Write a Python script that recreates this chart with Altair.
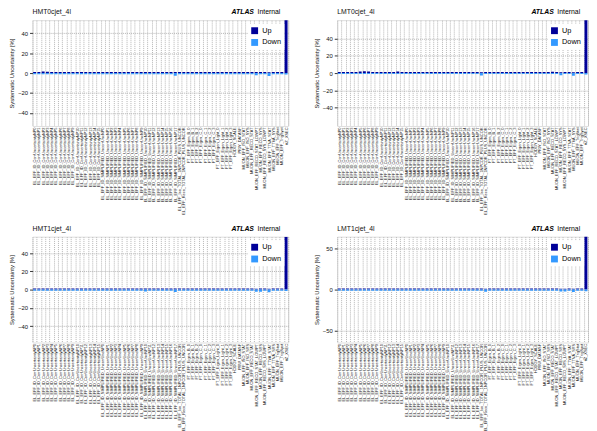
import altair as alt
import pandas as pd

F = "Liberation Sans"

categories = (
    [f"EL_EFF_ID_CorrUncertaintyNP{i}" for i in range(16)]
    + [f"EL_EFF_ID_SIMPLIFIED_UncorrUncNP{i}" for i in range(18)]
    + ["EL_EFF_Iso_TOTAL_1NPCOR_PLUS_UNCOR", "EL_EFF_Reco_TOTAL_1NPCOR_PLUS_UNCOR"]
    + ["FT_EFF_Eigen_B_0", "FT_EFF_Eigen_B_1", "FT_EFF_Eigen_B_2",
       "FT_EFF_Eigen_C_0", "FT_EFF_Eigen_C_1", "FT_EFF_Eigen_C_2", "FT_EFF_Eigen_C_3",
       "FT_EFF_Eigen_Light_0", "FT_EFF_Eigen_Light_1", "FT_EFF_Eigen_Light_2", "FT_EFF_Eigen_Light_3"]
    + ["HODGY_SCALE", "PRW_DATASF"]
    + ["MUON_EFF_ISO_STAT", "MUON_EFF_ISO_SYS", "MUON_EFF_RECO_STAT", "MUON_EFF_RECO_STAT_LOWPT",
       "MUON_EFF_RECO_SYS", "MUON_EFF_RECO_SYS_LOWPT", "MUON_EFF_TTVA_STAT", "MUON_EFF_TTVA_SYS",
       "MUON_EFF_TrigStat", "MUON_EFF_TrigSyst", "ttZ_XSEC"]
)

up_hmt0 = [1.2, 1.2, 1.7, 1.3, 1.2, 1.2, 1.2, 1.2, 1.2, 1.2,
           1.2, 1.2, 1.2, 1.2, 1.2, 1.2, 1.2, 1.2, 1.2, 1.2,
           1.2, 1.2, 1.2, 1.2, 1.2, 1.2, 1.2, 1.2, 1.2, 1.2,
           1.2, 1.2, 1.2, 1.0, 1.2, 1.2, 1.2, 1.2, 1.2, 1.2,
           1.2, 1.2, 1.2, 1.2, 1.2, 1.2, 1.2, 1.2, 1.2, 1.2,
           1.2, 1.2, 1.0, 1.2, 1.2, 0.9, 1.2, 1.2, 1.2, 60.0]
down_hmt0 = [-1.2, -1.2, -1.2, -1.2, -1.2, -1.2, -1.2, -1.2, -1.2, -1.2,
             -1.2, -1.2, -1.2, -1.2, -1.2, -1.2, -1.2, -1.2, -1.2, -1.2,
             -1.2, -1.2, -1.2, -1.2, -1.2, -1.2, -1.2, -1.2, -1.2, -1.2,
             -1.2, -1.2, -1.2, -2.6, -1.2, -1.2, -1.2, -1.2, -1.2, -1.2,
             -1.2, -1.2, -1.2, -1.2, -1.2, -1.2, -1.2, -1.2, -1.2, -1.2,
             -1.2, -1.2, -2.2, -1.2, -1.2, -3.0, -1.2, -1.2, -1.2, -1.4]

up_lmt0 = [1.2, 1.2, 1.2, 1.2, 1.2, 1.9, 2.0, 1.8, 1.2, 1.2,
           1.2, 1.2, 1.2, 1.2, 1.8, 1.2, 1.2, 1.2, 1.2, 1.2,
           1.2, 1.2, 1.2, 1.2, 1.2, 1.2, 1.2, 1.2, 1.2, 1.2,
           1.2, 1.2, 1.2, 1.2, 1.0, 1.2, 1.2, 1.2, 1.2, 1.2,
           1.2, 1.2, 1.2, 1.2, 1.2, 1.2, 1.2, 1.2, 1.2, 1.2,
           1.2, 1.6, 1.2, 1.0, 1.2, 1.2, 0.9, 1.2, 1.2, 68.0]
down_lmt0 = [-1.2, -1.2, -1.2, -1.2, -1.2, -1.2, -1.2, -1.2, -1.2, -1.2,
             -1.2, -1.2, -1.2, -1.2, -1.2, -1.2, -1.2, -1.2, -1.2, -1.2,
             -1.2, -1.2, -1.2, -1.2, -1.2, -1.2, -1.2, -1.2, -1.2, -1.2,
             -1.2, -1.2, -1.2, -1.2, -2.8, -1.2, -1.2, -1.2, -1.2, -1.2,
             -1.2, -1.2, -1.2, -1.2, -1.2, -1.2, -1.2, -1.2, -1.2, -1.2,
             -1.2, -1.2, -1.2, -2.4, -1.2, -1.2, -3.0, -1.2, -1.2, -1.6]

up_hmt1 = [1.3, 1.3, 1.3, 1.3, 1.3, 1.3, 1.3, 1.3, 1.3, 1.3,
           1.3, 1.3, 1.3, 1.3, 1.3, 1.3, 1.3, 1.3, 1.3, 1.3,
           1.3, 1.3, 1.3, 1.3, 1.3, 1.3, 1.1, 1.3, 1.3, 1.3,
           1.3, 1.3, 1.3, 1.1, 1.3, 1.3, 1.3, 1.3, 1.3, 1.3,
           1.3, 1.3, 1.3, 1.3, 1.3, 1.3, 1.3, 1.3, 1.3, 1.3,
           1.3, 1.3, 1.0, 1.1, 1.3, 1.0, 1.3, 1.3, 1.3, 58.0]
down_hmt1 = [-1.3, -1.3, -1.3, -1.3, -1.3, -1.3, -1.3, -1.3, -1.3, -1.3,
             -1.3, -1.3, -1.3, -1.3, -1.3, -1.3, -1.3, -1.3, -1.3, -1.3,
             -1.3, -1.3, -1.3, -1.3, -1.3, -1.3, -2.2, -1.3, -1.3, -1.3,
             -1.3, -1.3, -1.3, -2.6, -1.3, -1.3, -1.3, -1.3, -1.3, -1.3,
             -1.3, -1.3, -1.3, -1.3, -1.3, -1.3, -1.3, -1.3, -1.3, -1.3,
             -1.3, -1.3, -2.4, -2.4, -1.3, -2.8, -1.3, -1.3, -1.3, -1.6]

up_lmt1 = [1.3, 1.3, 1.3, 1.3, 1.3, 1.3, 1.3, 1.3, 1.3, 1.3,
           1.3, 1.3, 1.3, 1.3, 1.3, 1.3, 1.3, 1.3, 1.3, 1.3,
           1.3, 1.3, 1.3, 1.3, 1.3, 1.3, 1.3, 1.3, 1.3, 1.3,
           1.3, 1.3, 1.3, 1.3, 1.3, 1.1, 1.3, 1.3, 1.3, 1.3,
           1.3, 1.3, 1.3, 1.3, 1.3, 1.3, 1.3, 1.3, 1.3, 1.3,
           1.3, 1.3, 1.3, 1.0, 1.1, 1.3, 1.0, 1.3, 1.3, 70.0]
down_lmt1 = [-1.3, -1.3, -1.3, -1.3, -1.3, -1.3, -1.3, -1.3, -1.3, -1.3,
             -1.3, -1.3, -1.3, -1.3, -1.3, -1.3, -1.3, -1.3, -1.3, -1.3,
             -1.3, -1.3, -1.3, -1.3, -1.3, -1.3, -1.3, -1.3, -1.3, -1.3,
             -1.3, -1.3, -1.3, -1.3, -1.3, -2.6, -1.3, -1.3, -1.3, -1.3,
             -1.3, -1.3, -1.3, -1.3, -1.3, -1.3, -1.3, -1.3, -1.3, -1.3,
             -1.3, -1.3, -1.3, -2.4, -2.2, -1.3, -2.8, -1.3, -1.3, -2.0]

series = ["Up", "Down"]
colors = ["#000099", "#3399ff"]


def panel(title, up, down, dom, ticks, width, height):
    df = pd.DataFrame({
        "cat": categories * 2,
        "series": ["Up"] * len(categories) + ["Down"] * len(categories),
        "value": up + down,
    })
    bars = alt.Chart(df).mark_bar(width=alt.RelativeBandSize(0.7), clip=True).encode(
        x=alt.X("cat:N", sort=categories, title=None,
                scale=alt.Scale(paddingInner=0, paddingOuter=0),
                axis=alt.Axis(labelAngle=270, labelFontSize=4, labelOverlap=False,
                              labelPadding=1, labelFont=F, labelColor="#222",
                              ticks=False, tickBand="extent",
                              grid=True, gridDash=[1, 1], gridColor="#b4b4b4",
                              domain=False, labelBound=False)),
        y=alt.Y("value:Q", stack=None,
                scale=alt.Scale(domain=dom, nice=False, zero=False),
                axis=alt.Axis(values=ticks, title="Systematic Uncertainty [%]",
                              titleFontSize=6, titleFont=F, titleFontWeight="normal",
                              titleColor="#111", titlePadding=3,
                              labelFontSize=6, labelFont=F, labelColor="#111",
                              tickSize=3, tickColor="#333", domain=False,
                              grid=True, gridDash=[1, 1], gridColor="#b4b4b4")),
        color=alt.Color("series:N", sort=series,
                        scale=alt.Scale(domain=series, range=colors),
                        legend=alt.Legend(title=None, orient="top-right", offset=4,
                                          padding=3, fillColor="white",
                                          symbolType="square", symbolSize=49,
                                          symbolStrokeWidth=0, labelOffset=4,
                                          labelFontSize=7.5, labelFont=F,
                                          labelColor="#000", rowPadding=3)),
    )
    t = pd.DataFrame({"k": [0]})
    ttl = alt.Chart(t).mark_text(align="left", baseline="middle", fontSize=7,
                                 font=F, color="#111").encode(
        x=alt.value(0), y=alt.value(-8), text=alt.value(title))
    atlas = alt.Chart(t).mark_text(align="right", baseline="middle", fontSize=7,
                                   font=F, fontStyle="italic", fontWeight="bold",
                                   color="#000").encode(
        x=alt.value(width - 35), y=alt.value(-8), text=alt.value("ATLAS"))
    internal = alt.Chart(t).mark_text(align="right", baseline="middle", fontSize=7,
                                      font=F, color="#000").encode(
        x=alt.value(width - 8), y=alt.value(-8), text=alt.value("Internal"))
    return alt.layer(bars, ttl, atlas, internal).properties(width=width, height=height)


p1 = panel("HMT0cjet_4l", up_hmt0, down_hmt0, [-53, 53], [-40, -20, 0, 20, 40], 261, 108)
p2 = panel("LMT0cjet_4l", up_lmt0, down_lmt0, [-61, 61], [-40, -20, 0, 20, 40], 256, 108)
p3 = panel("HMT1cjet_4l", up_hmt1, down_hmt1, [-58, 58], [-40, -20, 0, 20, 40], 261, 108)
p4 = panel("LMT1cjet_4l", up_lmt1, down_lmt1, [-65, 65], [-50, 0, 50], 256, 108)

row1 = alt.hconcat(p1, p2, spacing=24).resolve_scale(color="independent").resolve_legend(color="independent")
row2 = alt.hconcat(p3, p4, spacing=24).resolve_scale(color="independent").resolve_legend(color="independent")


def build(pad):
    return alt.vconcat(row1, row2, spacing=9).resolve_scale(color="independent").resolve_legend(
        color="independent"
    ).properties(padding=pad).configure_view(stroke="#222", strokeWidth=1).configure(
        background="white"
    )


try:
    chart = build({"top": -5, "left": 0, "right": 0, "bottom": 0})
    chart.to_dict()
except Exception:
    chart = build(0)

chart.save("out.html", embed_options={"renderer": "svg", "actions": False})
